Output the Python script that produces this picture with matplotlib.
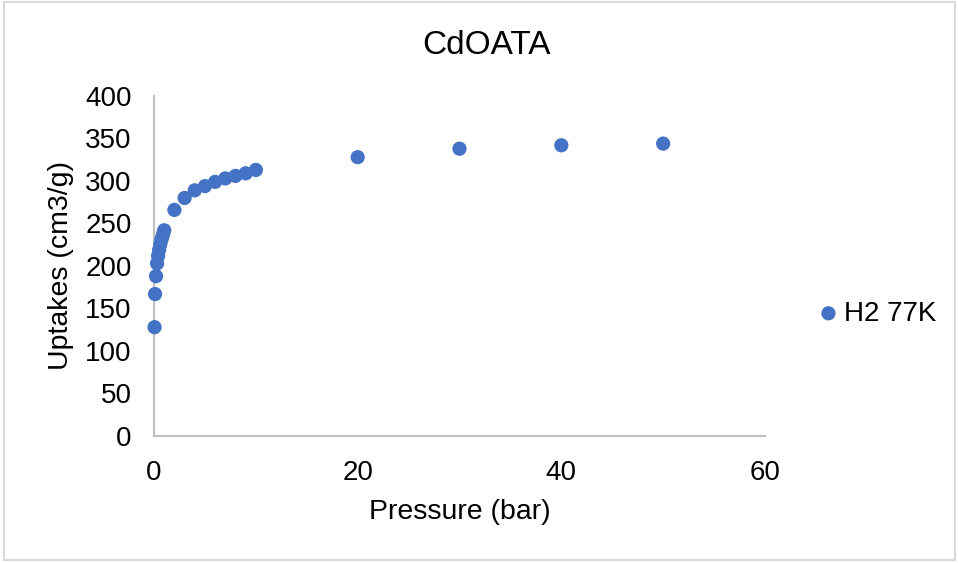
import matplotlib
matplotlib.use("Agg")
import matplotlib.pyplot as plt
from matplotlib.patches import Rectangle

plt.rcParams['font.family'] = ['Liberation Sans', 'DejaVu Sans']

# H2 isotherm at 77 K
pressure = [0.05, 0.1, 0.2, 0.3, 0.4, 0.5, 0.6, 0.7, 0.8, 0.9, 1.0,
            2, 3, 4, 5, 6, 7, 8, 9, 10, 20, 30, 40, 50]
uptake = [128, 167, 188, 203, 212, 219, 225, 230, 234, 238, 242,
          266, 280, 289, 294, 299, 303, 306, 309, 313, 328, 338, 342, 344]

x_ticks = [0, 20, 40, 60]
y_ticks = [0, 50, 100, 150, 200, 250, 300, 350, 400]

color = '#4472C4'

fig = plt.figure(figsize=(9.58, 5.63), dpi=100)
ax = fig.add_axes([0.1608, 0.2256, 0.6377, 0.6039])

ax.scatter(pressure, uptake, s=105, color=color, edgecolors='none',
           label='H2 77K', zorder=3, clip_on=False)

ax.set_xlim(0, 60)
ax.set_ylim(0, 400)
ax.set_xticks(x_ticks)
ax.set_yticks(y_ticks)
ax.tick_params(axis='y', length=0, labelsize=20, colors='black', pad=16)
ax.tick_params(axis='x', length=0, labelsize=20, colors='black', pad=17)

for side in ('top', 'right'):
    ax.spines[side].set_visible(False)
for side in ('left', 'bottom'):
    ax.spines[side].set_color('#BFBFBF')
    ax.spines[side].set_linewidth(1.5)

ax.set_xlabel('Pressure (bar)', fontsize=20.5, labelpad=10)
ax.set_ylabel('Uptakes (cm3/g)', fontsize=20.5, labelpad=8)
fig.text(0.508, 0.92, 'CdOATA', ha='center', va='center', fontsize=24)

ax.legend(loc='center left', bbox_to_anchor=(1.088, 0.36), frameon=False,
          fontsize=20, handlelength=0.7, handletextpad=0.2, borderpad=0,
          scatterpoints=1, borderaxespad=0, markerscale=1.0)

fig.patches.append(Rectangle((0.004, 0.006), 0.993, 0.99, transform=fig.transFigure,
                             fill=False, edgecolor='#D9D9D9', linewidth=1.5))

fig.savefig('out.png', dpi=100)
